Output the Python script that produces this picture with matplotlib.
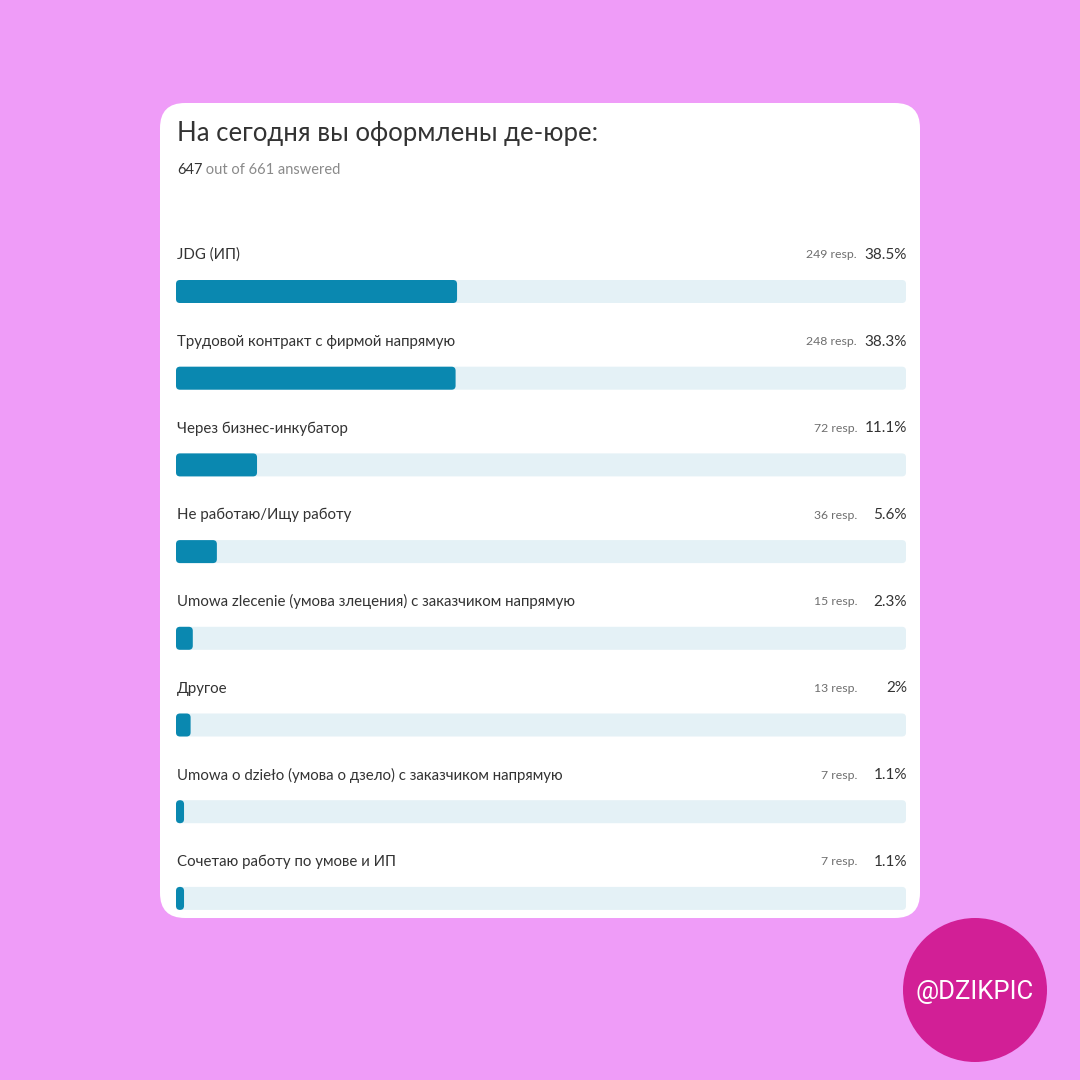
import matplotlib
matplotlib.use("Agg")
import matplotlib.pyplot as plt
from matplotlib.patches import FancyBboxPatch, Circle

plt.rcParams['font.family'] = ['Lato', 'Noto Sans', 'DejaVu Sans']

# ---- data ----
title = "На сегодня вы оформлены де-юре:"
answered = 647
total = 661
labels = [
    "JDG (ИП)",
    "Трудовой контракт с фирмой напрямую",
    "Через бизнес-инкубатор",
    "Не работаю/Ищу работу",
    "Umowa zlecenie (умова злецения) с заказчиком напрямую",
    "Другое",
    "Umowa o dzieło (умова о дзело) с заказчиком напрямую",
    "Сочетаю работу по умове и ИП",
]
responses = [249, 248, 72, 36, 15, 13, 7, 7]
percents = [38.5, 38.3, 11.1, 5.6, 2.3, 2.0, 1.1, 1.1]
pct_labels = ["38.5%", "38.3%", "11.1%", "5.6%", "2.3%", "2%", "1.1%", "1.1%"]

BG = "#EF9CF8"
CARD = "#FFFFFF"
FILL = "#0A88B0"
TRACK = "#E4F1F6"
DARK = "#333333"
GREY = "#6E6E6E"

fig = plt.figure(figsize=(10.8, 10.8), dpi=100, facecolor=BG)
ax = fig.add_axes([0, 0, 1, 1])
ax.set_xlim(0, 1080)
ax.set_ylim(1080, 0)
ax.axis("off")

# card
ax.add_patch(FancyBboxPatch((185, 128), 710, 765,
                            boxstyle="round,pad=25,rounding_size=25",
                            fc=CARD, ec="none", zorder=1))

ax.text(177, 133, title, fontsize=18.5, color=DARK, va="center", ha="left", zorder=3)
num = ax.text(177, 170, f"{answered}", fontsize=10.5, color=DARK, va="center", ha="left", zorder=3)
ax.annotate(f" out of {total} answered", xy=(1, 0.5), xycoords=num,
            fontsize=10.5, color="#8A8A8A", va="center", ha="left", zorder=3)

# bars (track x 176..906)
x0, track_w = 176, 730
first_bar, step, bar_h = 291.5, 86.7, 23
ys = [first_bar + i * step for i in range(len(labels))]

tracks = ax.barh(ys, [track_w] * len(ys), left=x0, height=bar_h, color=TRACK, zorder=2)
fills = ax.barh(ys, [p / 100 * track_w for p in percents], left=x0, height=bar_h,
                color=FILL, zorder=3)

# round the bar corners
for container, col, z in ((tracks, TRACK, 2), (fills, FILL, 3)):
    for p in container.patches:
        x, y, w, h = p.get_x(), p.get_y(), p.get_width(), p.get_height()
        p.set_visible(False)
        r = min(4, w / 2)
        ax.add_patch(FancyBboxPatch((x + r, y + r), max(w - 2 * r, 0.01), h - 2 * r,
                                    boxstyle=f"round,pad={r}", fc=col, ec="none", zorder=z))

for y, lab, n, pl in zip(ys, labels, responses, pct_labels):
    ty = y - 36.5
    ax.text(177, ty, lab, fontsize=10.8, color=DARK, va="center", ha="left", zorder=4)
    ax.text(907, ty, pl, fontsize=11, color=DARK, va="center", ha="right", zorder=4)
    ax.text(857, ty, f"{n} resp.", fontsize=8.8, color=GREY, va="center", ha="right", zorder=4)

# badge
ax.add_patch(Circle((975, 990), 72, fc="#D21F96", ec="none", zorder=5))
ax.text(975, 992, "@DZIKPIC", fontsize=18.5, color="white", ha="center", va="center",
        family=["Roboto", "DejaVu Sans"], zorder=6)

fig.savefig("out.png", dpi=100, facecolor=BG)
